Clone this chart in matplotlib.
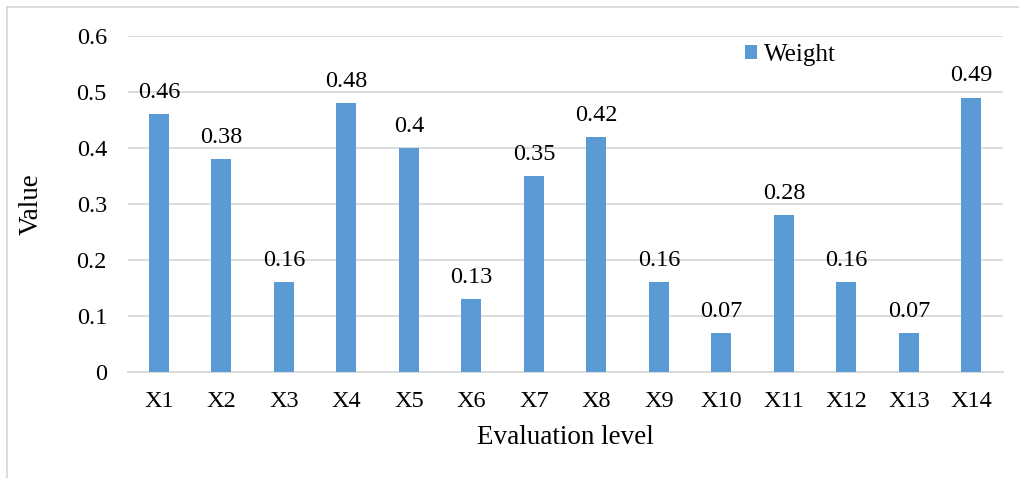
import matplotlib
matplotlib.use("Agg")
import matplotlib.pyplot as plt
from matplotlib.lines import Line2D

categories = ["X1", "X2", "X3", "X4", "X5", "X6", "X7", "X8", "X9", "X10", "X11", "X12", "X13", "X14"]
weights = [0.46, 0.38, 0.16, 0.48, 0.4, 0.13, 0.35, 0.42, 0.16, 0.07, 0.28, 0.16, 0.07, 0.49]
yticks = [0, 0.1, 0.2, 0.3, 0.4, 0.5, 0.6]
ytick_labels = ["0", "0.1", "0.2", "0.3", "0.4", "0.5", "0.6"]

plt.rcParams['font.family'] = ['Liberation Serif', 'DejaVu Serif']
FS = 17.5
LFS = 19.5

W, H = 1020, 478
fig = plt.figure(figsize=(W / 100, H / 100), dpi=100)
ax = fig.add_axes([127.75 / W, 1 - 372 / H, 875 / W, 336 / H])

x = list(range(len(categories)))
ax.bar(x, weights, width=0.32, color="#5B9BD5", zorder=3, label="Weight")
for xi, v in zip(x, weights):
    ax.annotate(f"{v:g}", (xi, v), xytext=(0, 8), textcoords="offset points",
                ha="center", va="bottom", fontsize=FS, color="black")

ax.set_xlim(-0.5, len(categories) - 0.5)
ax.set_ylim(0, 0.6)
ax.set_yticks(yticks)
ax.set_yticklabels(ytick_labels, fontsize=FS)
ax.set_xticks(x)
ax.set_xticklabels(categories, fontsize=FS)
ax.tick_params(axis="x", length=0, pad=14)
ax.tick_params(axis="y", length=0, pad=15)
ax.yaxis.grid(True, color="#D9D9D9", linewidth=1.3, zorder=0)
for s in ["top", "right", "left"]:
    ax.spines[s].set_visible(False)
ax.spines["bottom"].set_color("#D9D9D9")
ax.spines["bottom"].set_linewidth(1.3)
ax.set_xlabel("Evaluation level", fontsize=LFS, labelpad=9)
ax.set_ylabel("Value", fontsize=LFS, labelpad=24)

ax.legend(loc="center left", bbox_to_anchor=(745 / W, 1 - 55 / H), bbox_transform=fig.transFigure,
          frameon=False, fontsize=18, handlelength=0.5, handleheight=0.5,
          handletextpad=0.25, borderpad=0, borderaxespad=0)

fig.add_artist(Line2D([7 / W, 7 / W], [0, 1 - 7 / H], color="#D9D9D9", linewidth=1.3))
fig.add_artist(Line2D([7 / W, 1], [1 - 7 / H, 1 - 7 / H], color="#D9D9D9", linewidth=1.3))

fig.savefig("out.png", dpi=100)
